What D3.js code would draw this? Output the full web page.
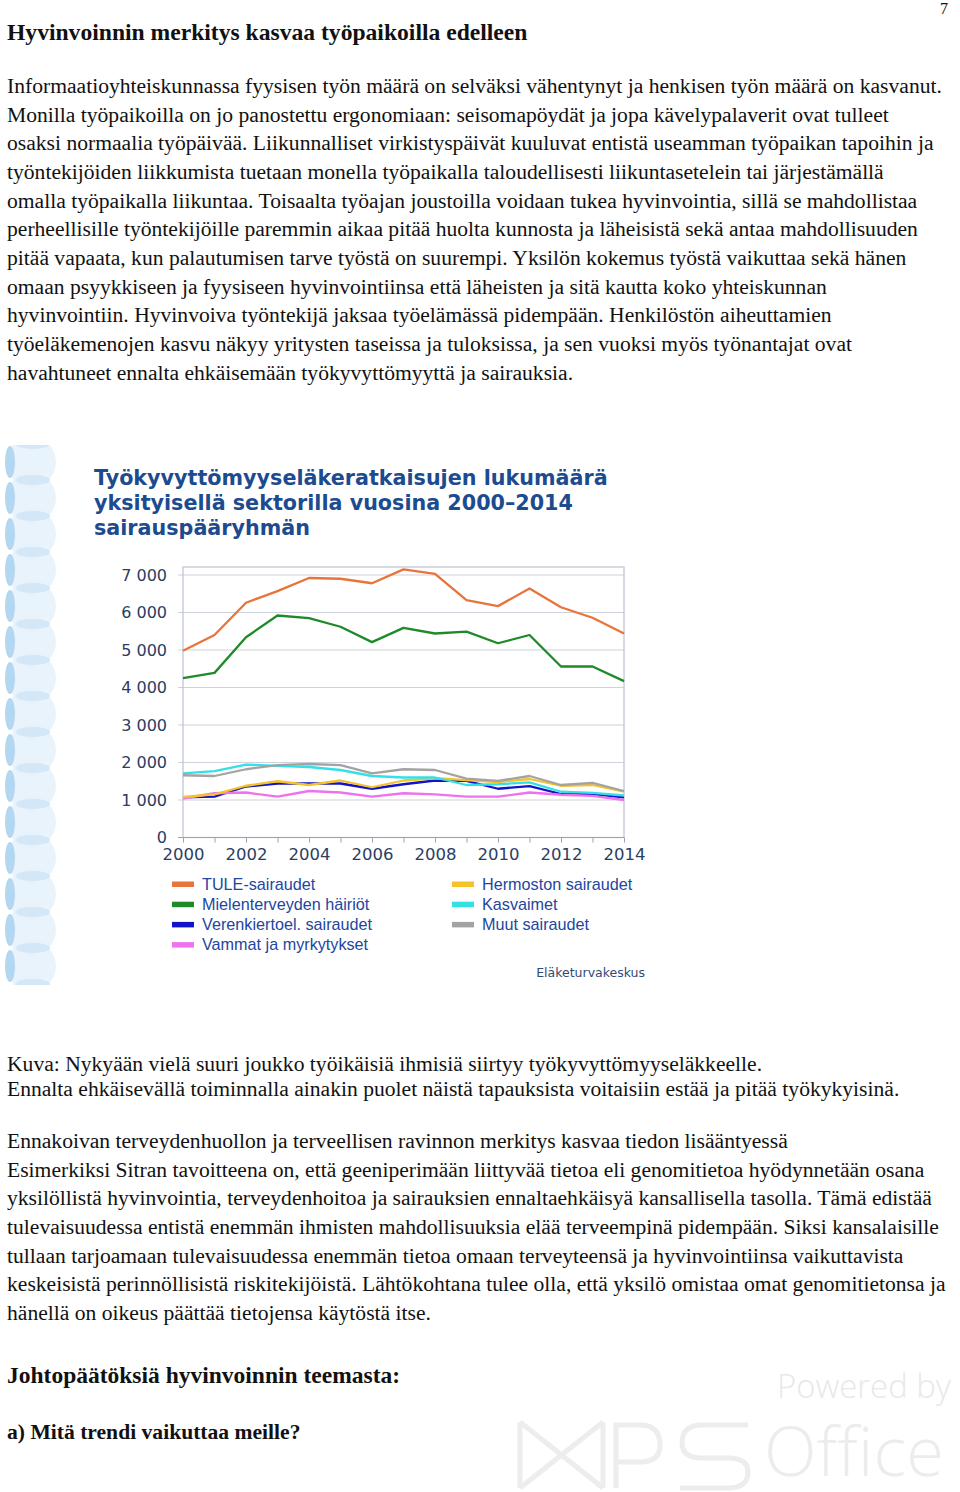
<!DOCTYPE html>
<meta charset="utf-8">
<script src="https://d3js.org/d3.v7.min.js"></script>
<style>
body { margin: 0; background: #fff; }
svg { display: block; }
.page text { font-family: "Liberation Serif", "Times New Roman", serif; fill: #111; }
.axis text { font-family: "DejaVu Sans", Verdana, sans-serif; fill: #2b3d63; }
.axis path { display: none; }
.legend text { font-family: "Liberation Sans", Arial, sans-serif; font-size: 16.2px; fill: #2346a0; }
</style>
<body></body>
<script>

// chart data
var years = d3.range(2000, 2015);
var seriesNames = ['TULE-sairaudet', 'Mielenterveyden häiriöt', 'Verenkiertoel. sairaudet',
  'Vammat ja myrkytykset', 'Hermoston sairaudet', 'Kasvaimet', 'Muut sairaudet'];
var seriesColors = ['#e8743b', '#1f8a2a', '#1212c8', '#ee72ee', '#f5c22a', '#35dfe6', '#a3a3a3'];

var tule          = [4980, 5400, 6260, 6570, 6920, 6900, 6780, 7150, 7030, 6330, 6170, 6640, 6140, 5860, 5440];
var mielenterveys = [4250, 4390, 5340, 5920, 5850, 5620, 5210, 5590, 5440, 5490, 5180, 5400, 4560, 4560, 4170];
var verenkierto   = [1070, 1090, 1360, 1440, 1440, 1440, 1300, 1420, 1520, 1510, 1300, 1370, 1160, 1160, 1070];
var vammat        = [1040, 1180, 1200, 1090, 1240, 1200, 1090, 1180, 1150, 1090, 1090, 1200, 1140, 1110, 1000];
var hermosto      = [1080, 1150, 1380, 1500, 1400, 1520, 1340, 1520, 1580, 1530, 1480, 1560, 1380, 1400, 1220];
var kasvaimet     = [1710, 1770, 1945, 1910, 1880, 1800, 1640, 1600, 1600, 1400, 1420, 1470, 1220, 1190, 1120];
var muut          = [1660, 1640, 1820, 1930, 1960, 1930, 1710, 1820, 1800, 1570, 1510, 1640, 1400, 1455, 1240];

var seriesValues = [tule, mielenterveys, verenkierto, vammat, hermosto, kasvaimet, muut];
var yTicks = [0, 1000, 2000, 3000, 4000, 5000, 6000, 7000];
var xTicks = [2000, 2002, 2004, 2006, 2008, 2010, 2012, 2014];

// page text
var heading = 'Hyvinvoinnin merkitys kasvaa työpaikoilla edelleen';
var para1 = [
  'Informaatioyhteiskunnassa fyysisen työn määrä on selväksi vähentynyt ja henkisen työn määrä on kasvanut.',
  'Monilla työpaikoilla on jo panostettu ergonomiaan: seisomapöydät ja jopa kävelypalaverit ovat tulleet',
  'osaksi normaalia työpäivää. Liikunnalliset virkistyspäivät kuuluvat entistä useamman työpaikan tapoihin ja',
  'työntekijöiden liikkumista tuetaan monella työpaikalla taloudellisesti liikuntasetelein tai järjestämällä',
  'omalla työpaikalla liikuntaa. Toisaalta työajan joustoilla voidaan tukea hyvinvointia, sillä se mahdollistaa',
  'perheellisille työntekijöille paremmin aikaa pitää huolta kunnosta ja läheisistä sekä antaa mahdollisuuden',
  'pitää vapaata, kun palautumisen tarve työstä on suurempi. Yksilön kokemus työstä vaikuttaa sekä hänen',
  'omaan psyykkiseen ja fyysiseen hyvinvointiinsa että läheisten ja sitä kautta koko yhteiskunnan',
  'hyvinvointiin. Hyvinvoiva työntekijä jaksaa työelämässä pidempään. Henkilöstön aiheuttamien',
  'työeläkemenojen kasvu näkyy yritysten taseissa ja tuloksissa, ja sen vuoksi myös työnantajat ovat',
  'havahtuneet ennalta ehkäisemään työkyvyttömyyttä ja sairauksia.'
];
var caption = [
  'Kuva: Nykyään vielä suuri joukko työikäisiä ihmisiä siirtyy työkyvyttömyyseläkkeelle.',
  'Ennalta ehkäisevällä toiminnalla ainakin puolet näistä tapauksista voitaisiin estää ja pitää työkykyisinä.'
];
var para2 = [
  'Ennakoivan terveydenhuollon ja terveellisen ravinnon merkitys kasvaa tiedon lisääntyessä',
  'Esimerkiksi Sitran tavoitteena on, että geeniperimään liittyvää tietoa eli genomitietoa hyödynnetään osana',
  'yksilöllistä hyvinvointia, terveydenhoitoa ja sairauksien ennaltaehkäisyä kansallisella tasolla. Tämä edistää',
  'tulevaisuudessa entistä enemmän ihmisten mahdollisuuksia elää terveempinä pidempään. Siksi kansalaisille',
  'tullaan tarjoamaan tulevaisuudessa enemmän tietoa omaan terveyteensä ja hyvinvointiinsa vaikuttavista',
  'keskeisistä perinnöllisistä riskitekijöistä. Lähtökohtana tulee olla, että yksilö omistaa omat genomitietonsa ja',
  'hänellä on oikeus päättää tietojensa käytöstä itse.'
];
var title = ['Työkyvyttömyyseläkeratkaisujen lukumäärä', 'yksityisellä sektorilla vuosina 2000–2014', 'sairauspääryhmän'];

var svg = d3.select('body').append('svg')
  .attr('width', 960)
  .attr('height', 1492);

// watermark (behind everything)
var wm = svg.append('g').attr('fill', 'none').attr('stroke', '#ededed').attr('stroke-width', 5);
wm.append('path').attr('d', 'M520,1422 L520,1488 M520,1422 L603,1488 M603,1422 L520,1488 M603,1422 L603,1488');
wm.append('path').attr('d', 'M616,1488 L616,1425 L640,1425 Q660,1425 660,1445 Q660,1462 640,1462 L616,1462');
wm.append('path').attr('d', 'M748,1425 L702,1425 Q682,1425 682,1443 Q682,1458 702,1458 L728,1458 Q748,1458 748,1472 Q748,1488 728,1488 L680,1488');

// fit a text to a target width by scaling its font size
function fitText(sel, size, target) {
  sel.style('font-size', size + 'px');
  var len = sel.node().getComputedTextLength();
  sel.style('font-size', (size * target / len) + 'px');
}
var powered = svg.append('text').attr('x', 777).attr('y', 1398)
  .style('font-family', '"Open Sans", sans-serif').style('font-weight', 300)
  .style('fill', '#e8e8e8').text('Powered by');
fitText(powered, 36, 174);
var office = svg.append('text').attr('x', 764).attr('y', 1476)
  .style('font-family', '"Open Sans", sans-serif').style('font-weight', 300)
  .style('fill', '#ececec').text('Office');
fitText(office, 80, 180);

// page text
var page = svg.append('g').attr('class', 'page');

page.append('text').attr('x', 940).attr('y', 14).style('font-size', '16px').text('7');
page.append('text').attr('x', 7).attr('y', 40).style('font-size', '23.6px').style('font-weight', 'bold').text(heading);

function block(lines, y0, step) {
  page.append('g').selectAll('text').data(lines).enter().append('text')
    .attr('x', 7)
    .attr('y', (d, i) => y0 + i * step)
    .style('font-size', '21.6px')
    .text(d => d);
}
block(para1, 93, 28.65);
block(caption, 1071, 25);
block(para2, 1148, 28.65);

page.append('text').attr('x', 7).attr('y', 1383).style('font-size', '23.5px').style('font-weight', 'bold').text('Johtopäätöksiä hyvinvoinnin teemasta:');
page.append('text').attr('x', 7).attr('y', 1439).style('font-size', '21.6px').style('font-weight', 'bold').text('a) Mitä trendi vaikuttaa meille?');

// left decoration of the chart picture
svg.append('clipPath').attr('id', 'decoClip')
  .append('rect').attr('x', 5).attr('y', 445).attr('width', 55).attr('height', 540);
var deco = svg.append('g').attr('clip-path', 'url(#decoClip)');
d3.range(16).forEach(function(i) {
  var cy = 462 + i * 36;
  deco.append('circle').attr('cx', 31).attr('cy', cy).attr('r', 25).attr('fill', '#e2effa').attr('opacity', 0.75);
});
d3.range(16).forEach(function(i) {
  var cy = 462 + i * 36;
  deco.append('ellipse').attr('cx', 33).attr('cy', cy - 18).attr('rx', 17).attr('ry', 5).attr('fill', '#d3e7f7');
  deco.append('ellipse').attr('cx', 10).attr('cy', cy).attr('rx', 5).attr('ry', 16).attr('fill', '#b3d6f1');
});

// chart title
svg.append('g').selectAll('text').data(title).enter().append('text')
  .attr('x', 94)
  .attr('y', (d, i) => 485 + i * 25)
  .style('font-family', '"DejaVu Sans", Verdana, sans-serif')
  .style('font-weight', 'bold')
  .style('font-size', '20.7px')
  .style('fill', '#1d4b8f')
  .text(d => d);

// plot
var margin = {left: 183, top: 567};
var width = 441, height = 270.5;

var x = d3.scaleLinear().domain([2000, 2014]).range([0, width]);
var y = d3.scaleLinear().domain([0, 7000]).range([height, height - 262.5]);

var g = svg.append('g').attr('transform', 'translate(' + margin.left + ',' + margin.top + ')');

g.selectAll('.grid').data(yTicks.slice(1)).enter().append('line')
  .attr('class', 'grid')
  .attr('x1', -5).attr('x2', width)
  .attr('y1', d => y(d)).attr('y2', d => y(d))
  .attr('stroke', '#cdd2dc').attr('stroke-width', 1.2);

g.append('rect')
  .attr('x', 0).attr('y', 0).attr('width', width).attr('height', height)
  .attr('fill', 'none').attr('stroke', '#b9c2d2').attr('stroke-width', 1.2);

var yAxis = g.append('g').attr('class', 'axis')
  .call(d3.axisLeft(y).tickValues(yTicks).tickSize(0).tickPadding(16)
    .tickFormat(d => d3.format(',')(d).replace(',', ' ')));
yAxis.selectAll('text').style('font-size', '16px');

var xAxis = g.append('g').attr('class', 'axis')
  .attr('transform', 'translate(0,' + height + ')')
  .call(d3.axisBottom(x).tickValues(years).tickSize(5).tickPadding(6)
    .tickFormat(d => xTicks.indexOf(d) >= 0 ? d : ''));
xAxis.selectAll('line').attr('stroke', '#9aa3b3');
xAxis.selectAll('text').style('font-size', '16.5px');
g.append('line').attr('x1', -5).attr('x2', width).attr('y1', height).attr('y2', height)
  .attr('stroke', '#9aa3b3').attr('stroke-width', 1.2);

var line = d3.line()
  .x((d, i) => x(years[i]))
  .y(d => y(d));

g.selectAll('.series').data(seriesValues).enter().append('path')
  .attr('class', 'series')
  .attr('d', line)
  .attr('fill', 'none')
  .attr('stroke', (d, i) => seriesColors[i])
  .attr('stroke-width', 2.3)
  .attr('stroke-linejoin', 'round');

// legend, two columns
var legendItems = seriesNames.map(function(name, i) {
  return {name: name, color: seriesColors[i], col: i < 4 ? 0 : 1, row: i < 4 ? i : i - 4};
});
var legend = svg.append('g').attr('class', 'legend');
var li = legend.selectAll('g').data(legendItems).enter().append('g')
  .attr('transform', d => 'translate(' + (d.col ? 452 : 172) + ',' + (884 + d.row * 20.2) + ')');
li.append('rect').attr('x', 0).attr('y', -2.5).attr('width', 22).attr('height', 5.5).attr('fill', d => d.color);
li.append('text').attr('x', 30).attr('y', 5.8).text(d => d.name);

svg.append('text').attr('x', 645).attr('y', 977).attr('text-anchor', 'end')
  .style('font-family', '"DejaVu Sans", Verdana, sans-serif').style('font-size', '12.5px')
  .style('fill', '#2f4b78').text('Eläketurvakeskus');

</script>
